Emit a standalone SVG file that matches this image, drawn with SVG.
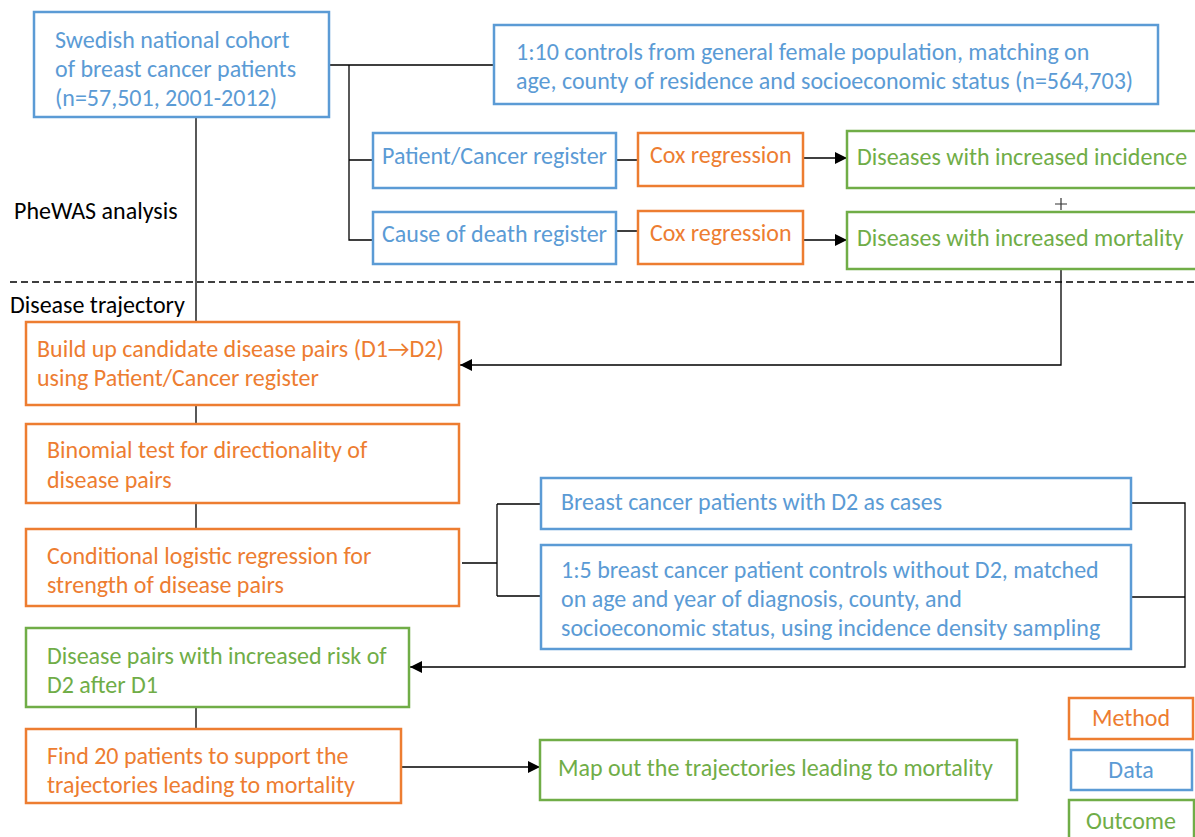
<svg xmlns="http://www.w3.org/2000/svg" width="1195" height="837" viewBox="0 0 1195 837">
<style>
text{font-family:Carlito,Lato,"Open Sans",sans-serif;font-size:24px}
.b rect{fill:#fff;stroke:#5B9BD5;stroke-width:2.5}
.o rect{fill:#fff;stroke:#ED7D31;stroke-width:2.5}
.g rect{fill:#fff;stroke:#70AD47;stroke-width:2.5}
.b text{fill:#5B9BD5}.o text{fill:#ED7D31}.g text{fill:#70AD47}
.k{fill:#000}
#conn path{fill:none;stroke:#000;stroke-width:1.3}
</style>
<defs>
<marker id="ah" viewBox="0 0 10 10" refX="10" refY="5" markerWidth="12" markerHeight="12" markerUnits="userSpaceOnUse" orient="auto"><path d="M0,0L10,5L0,10z" fill="#000"/></marker>
</defs>
<rect width="1195" height="837" fill="#fff"/>
<g id="conn">
<path d="M329,65H494M349,65V240H372M349,160H372"/>
<path d="M616,160H637M616,231H637"/>
<path d="M803,158H847" marker-end="url(#ah)"/>
<path d="M803,240H847" marker-end="url(#ah)"/>
<path d="M196,117V322M196,405V424M196,503V528M196,707V729"/>
<path d="M1061,269V365H460" marker-end="url(#ah)"/>
<path d="M462,563H497M497,504V596M497,504H541M497,596H541"/>
<path d="M1131,597H1185"/>
<path d="M1131,503H1185V667H410" marker-end="url(#ah)"/>
<path d="M401,767H540" marker-end="url(#ah)"/>
<path d="M10,282H1195" stroke-dasharray="7,4" stroke-width="2"/>
</g>
<text class="k" x="14" y="219">PheWAS analysis</text>
<text class="k" x="10" y="313">Disease trajectory</text>
<path d="M1061,198V210M1055,204H1067" stroke="#333" stroke-width="1.2" fill="none"/>
<g id="cohort" class="b"><rect x="34" y="12" width="295" height="105"/><text x="55" y="48">Swedish national cohort</text><text x="55" y="77">of breast cancer patients</text><text x="55" y="106">(n=57,501, 2001-2012)</text></g>
<g id="controls" class="b"><rect x="494" y="25" width="664" height="79"/><text x="516" y="60">1:10 controls from general female population, matching on</text><text x="516" y="89">age, county of residence and socioeconomic status (n=564,703)</text></g>
<g id="patreg" class="b"><rect x="373" y="133" width="243" height="55"/><text x="382" y="164">Patient/Cancer register</text></g>
<g id="deathreg" class="b"><rect x="373" y="212" width="243" height="52"/><text x="382" y="242">Cause of death register</text></g>
<g id="cox1" class="o"><rect x="638" y="133" width="165" height="53"/><text x="650" y="163">Cox regression</text></g>
<g id="cox2" class="o"><rect x="638" y="211" width="165" height="53"/><text x="650" y="241">Cox regression</text></g>
<g id="incid" class="g"><rect x="847" y="131" width="360" height="57"/><text x="857" y="165">Diseases with increased incidence</text></g>
<g id="mort" class="g"><rect x="847" y="212" width="360" height="57"/><text x="857" y="246">Diseases with increased mortality</text></g>
<g id="build" class="o"><rect x="26" y="322" width="433" height="83"/><text x="37" y="357">Build up candidate disease pairs (D1→D2)</text><text x="37" y="386">using Patient/Cancer register</text></g>
<g id="binom" class="o"><rect x="26" y="424" width="433" height="79"/><text x="47" y="458">Binomial test for directionality of</text><text x="47" y="488">disease pairs</text></g>
<g id="clogit" class="o"><rect x="26" y="529" width="433" height="77"/><text x="47" y="564">Conditional logistic regression for</text><text x="47" y="593">strength of disease pairs</text></g>
<g id="cases" class="b"><rect x="541" y="478" width="590" height="51"/><text x="561" y="510">Breast cancer patients with D2 as cases</text></g>
<g id="ctrl5" class="b"><rect x="541" y="545" width="590" height="104"/><text x="561" y="578">1:5 breast cancer patient controls without D2, matched</text><text x="561" y="607">on age and year of diagnosis, county, and</text><text x="561" y="636">socioeconomic status, using incidence density sampling</text></g>
<g id="pairs" class="g"><rect x="26" y="628" width="383" height="79"/><text x="47" y="664">Disease pairs with increased risk of</text><text x="47" y="693">D2 after D1</text></g>
<g id="find" class="o"><rect x="26" y="729" width="375" height="74"/><text x="47" y="764">Find 20 patients to support the</text><text x="47" y="793">trajectories leading to mortality</text></g>
<g id="map" class="g"><rect x="540" y="740" width="477" height="60"/><text x="558" y="776">Map out the trajectories leading to mortality</text></g>
<g id="lmethod" class="o"><rect x="1069" y="698" width="124" height="41"/><text x="1131" y="726" text-anchor="middle">Method</text></g>
<g id="ldata" class="b"><rect x="1071" y="750" width="121" height="40"/><text x="1131" y="778" text-anchor="middle">Data</text></g>
<g id="loutcome" class="g"><rect x="1069" y="800" width="125" height="42"/><text x="1131" y="829" text-anchor="middle">Outcome</text></g>
</svg>
